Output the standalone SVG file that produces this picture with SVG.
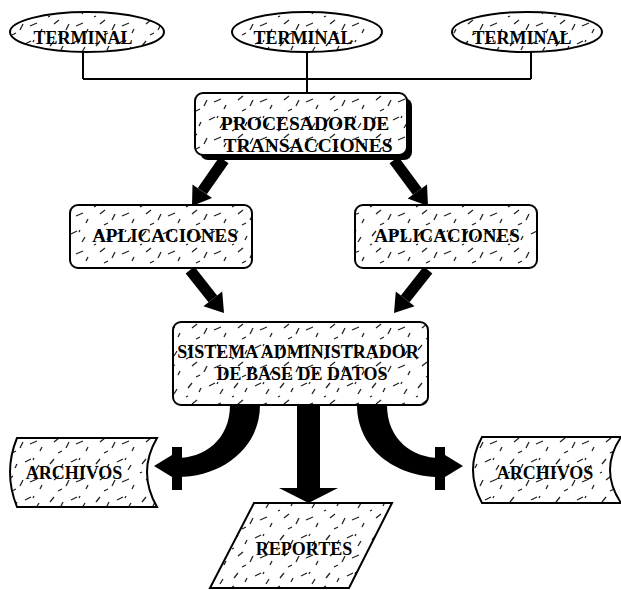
<svg xmlns="http://www.w3.org/2000/svg" width="621" height="590" viewBox="0 0 621 590">
<style>
.shape{fill:url(#tex);stroke:#000;stroke-width:2}
.lbl{font-family:"Liberation Serif","Times New Roman",serif;font-weight:bold;fill:#000;text-anchor:middle}
.line{fill:none;stroke:#000;stroke-width:2}
.blk{fill:#000}
</style>
<defs>
<pattern id="tex" width="46" height="38" patternUnits="userSpaceOnUse">
<rect width="46" height="38" fill="#fff"/>
<path d="M4,8 l4,-5 M15,12 l2,-4 M25,6 l6,-3 M36,14 l3,-5 M8,24 l5,-4 M20,30 l3,-6 M30,26 l7,-3 M40,33 l2,-4 M12,35 l4,-2 M2,17 l2,-1 M33,4 l1,-2" stroke="#222" stroke-width="1.3" fill="none"/>
</pattern>
</defs>

<g id="connectors">
<path class="line" d="M83,52 V79 M307,52 V93 M531,52 V79 M83,79 H531"/>
<g class="blk">
<!-- procesador -> aplicaciones -->
<line x1="224" y1="160" x2="202.3" y2="191.2" stroke="#000" stroke-width="11"/>
<polygon points="192,206 192.5,184.4 212.1,198"/>
<line x1="394" y1="160" x2="417.3" y2="191.5" stroke="#000" stroke-width="11"/>
<polygon points="428,206 407.6,198.6 427,184.4"/>
<!-- aplicaciones -> sgbd -->
<line x1="190" y1="270" x2="212.8" y2="298.9" stroke="#000" stroke-width="11"/>
<polygon points="224,313 203.4,306.3 222.2,291.5"/>
<line x1="428" y1="270" x2="405.2" y2="298.9" stroke="#000" stroke-width="11"/>
<polygon points="394,313 395.8,291.5 414.6,306.3"/>
<!-- sgbd -> reportes -->
<rect x="297" y="404" width="23" height="85"/>
<polygon points="279,488 338,488 308.5,503"/>
<!-- sgbd -> archivos right -->
<path d="M357,405 C357,448 395,477 440,477 L440,458 C413,458 387,440 387,405 Z"/>
<polygon points="445,455 463,466 445,477"/>
<rect x="435" y="447" width="10" height="43"/>
<!-- sgbd -> archivos left -->
<path d="M260,405 C260,448 222,477 177,477 L177,458 C204,458 230,440 230,405 Z"/>
<polygon points="172,455 154,466 172,477"/>
<rect x="172" y="447" width="10" height="43"/>
</g>
</g>

<g id="terminal1">
<ellipse class="shape" cx="87" cy="32" rx="77" ry="20"/>
<text class="lbl" x="83" y="44" font-size="18">TERMINAL</text>
</g>
<g id="terminal2">
<ellipse class="shape" cx="307" cy="32" rx="75" ry="20"/>
<text class="lbl" x="303" y="44" font-size="18">TERMINAL</text>
</g>
<g id="terminal3">
<ellipse class="shape" cx="527" cy="32" rx="75" ry="20"/>
<text class="lbl" x="522" y="44" font-size="18">TERMINAL</text>
</g>

<g id="procesador">
<rect x="200" y="98" width="212" height="62" rx="8" fill="#000"/>
<rect class="shape" x="195" y="93" width="212" height="62" rx="8"/>
<text class="lbl" x="305" y="130" font-size="19.5">PROCESADOR DE</text>
<text class="lbl" x="308" y="152" font-size="19.5">TRANSACCIONES</text>
</g>

<g id="aplicaciones1">
<rect class="shape" x="70" y="205" width="182" height="63" rx="8"/>
<text class="lbl" x="165" y="242" font-size="19">APLICACIONES</text>
</g>
<g id="aplicaciones2">
<rect class="shape" x="355" y="205" width="182" height="63" rx="8"/>
<text class="lbl" x="447" y="242" font-size="19">APLICACIONES</text>
</g>

<g id="sgbd">
<rect class="shape" x="173" y="322" width="255" height="83" rx="8"/>
<text class="lbl" x="298" y="358" font-size="18">SISTEMA ADMINISTRADOR</text>
<text class="lbl" x="302" y="380" font-size="18">DE BASE DE DATOS</text>
</g>

<g id="archivos1">
<path class="shape" d="M17,438 H157 Q137,472 157,507 H17 Q3,472 17,438 Z"/>
<text class="lbl" x="74" y="479" font-size="18">ARCHIVOS</text>
</g>
<g id="archivos2">
<path class="shape" d="M482,437 H621 Q599,470 621,503 H482 Q464,470 482,437 Z"/>
<text class="lbl" x="545" y="479" font-size="18">ARCHIVOS</text>
</g>

<g id="reportes">
<polygon class="shape" points="254,503 392,503 349,588 210,588"/>
<text class="lbl" x="304" y="555" font-size="18">REPORTES</text>
</g>
</svg>
